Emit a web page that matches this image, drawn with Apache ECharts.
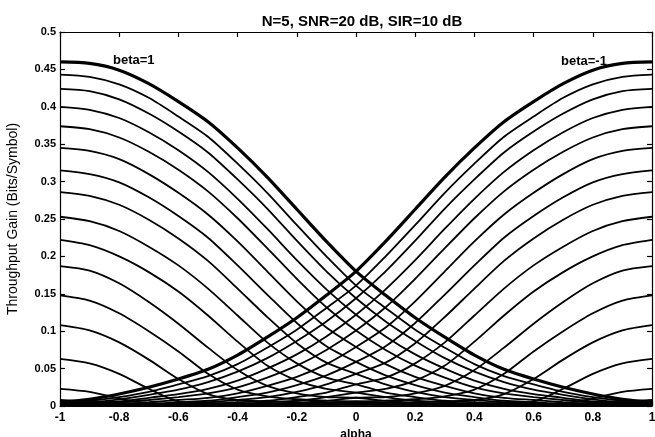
<!DOCTYPE html>
<html><head><meta charset="utf-8">
<script src="https://cdn.jsdelivr.net/npm/echarts@6/dist/echarts.min.js"></script>
<style>html,body{margin:0;padding:0;background:#fff}#c{width:655px;height:437px}</style>
</head><body><div id="c"></div>
<script>
// alpha sample points
const alpha = [-1,-0.9,-0.8,-0.7,-0.6,-0.5,-0.4,-0.3,-0.2,-0.1,0,0.1,0.2,0.3,0.4,0.5,0.6,0.7,0.8,0.9,1];

// descending family (beta = 1 is the thick top-left curve)
const dec1  = [0.460,0.458,0.449,0.431,0.407,0.380,0.345,0.306,0.263,0.220,0.180,0.148,0.118,0.092,0.068,0.049,0.036,0.025,0.016,0.009,0.005];
const dec2  = [0.443,0.440,0.430,0.412,0.387,0.360,0.324,0.285,0.242,0.200,0.161,0.131,0.102,0.078,0.056,0.040,0.029,0.019,0.012,0.007,0.004];
const dec3  = [0.424,0.421,0.410,0.391,0.367,0.339,0.303,0.264,0.221,0.180,0.144,0.113,0.087,0.064,0.046,0.032,0.022,0.015,0.009,0.005,0.003];
const dec4  = [0.400,0.396,0.385,0.366,0.342,0.313,0.277,0.237,0.195,0.156,0.122,0.093,0.069,0.050,0.034,0.023,0.016,0.011,0.006,0.004,0.002];
const dec5  = [0.374,0.370,0.359,0.340,0.316,0.287,0.251,0.211,0.170,0.132,0.101,0.075,0.054,0.038,0.025,0.017,0.012,0.008,0.005,0.003,0.002];
const dec6  = [0.345,0.341,0.330,0.310,0.285,0.256,0.220,0.180,0.140,0.105,0.079,0.056,0.039,0.027,0.017,0.011,0.008,0.005,0.003,0.002,0.002];
const dec7  = [0.315,0.310,0.299,0.279,0.254,0.225,0.188,0.149,0.111,0.080,0.059,0.041,0.028,0.018,0.012,0.007,0.005,0.003,0.002,0.002,0.002];
const dec8  = [0.286,0.281,0.269,0.249,0.224,0.194,0.157,0.119,0.084,0.058,0.043,0.029,0.019,0.012,0.008,0.005,0.003,0.002,0.002,0.002,0.002];
const dec9  = [0.253,0.247,0.234,0.213,0.188,0.157,0.121,0.085,0.057,0.038,0.029,0.018,0.012,0.007,0.005,0.003,0.002,0.002,0.002,0.002,0.002];
const dec10 = [0.222,0.215,0.200,0.179,0.153,0.121,0.086,0.054,0.034,0.023,0.018,0.012,0.007,0.005,0.003,0.002,0.002,0.002,0.002,0.002,0.002];
const dec11 = [0.187,0.181,0.164,0.139,0.110,0.078,0.048,0.027,0.017,0.012,0.011,0.007,0.004,0.003,0.002,0.002,0.002,0.002,0.002,0.002,0.002];
const dec12 = [0.148,0.141,0.124,0.100,0.073,0.043,0.022,0.013,0.009,0.007,0.006,0.004,0.003,0.002,0.002,0.002,0.002,0.002,0.002,0.002,0.002];
const dec13 = [0.108,0.101,0.085,0.062,0.036,0.016,0.008,0.006,0.005,0.004,0.004,0.003,0.002,0.002,0.002,0.002,0.002,0.002,0.002,0.002,0.002];
const dec14 = [0.063,0.057,0.043,0.023,0.006,0.004,0.003,0.003,0.003,0.003,0.003,0.002,0.002,0.002,0.002,0.002,0.002,0.002,0.002,0.002,0.002];
const dec15 = [0.023,0.019,0.010,0.004,0.002,0.002,0.002,0.002,0.002,0.002,0.002,0.002,0.002,0.002,0.002,0.002,0.002,0.002,0.002,0.002,0.002];
const dec16 = [0.008,0.006,0.004,0.003,0.002,0.002,0.002,0.002,0.002,0.002,0.002,0.002,0.002,0.002,0.002,0.002,0.002,0.002,0.002,0.002,0.002];

// ascending family (beta = -1 is the thick top-right curve)
const asc1  = [0.005,0.009,0.016,0.025,0.036,0.049,0.068,0.092,0.118,0.148,0.180,0.220,0.263,0.306,0.345,0.380,0.407,0.431,0.449,0.458,0.460];
const asc2  = [0.004,0.007,0.012,0.019,0.029,0.040,0.056,0.078,0.102,0.131,0.161,0.200,0.242,0.285,0.324,0.360,0.387,0.412,0.430,0.440,0.443];
const asc3  = [0.003,0.005,0.009,0.015,0.022,0.032,0.046,0.064,0.087,0.113,0.144,0.180,0.221,0.264,0.303,0.339,0.367,0.391,0.410,0.421,0.424];
const asc4  = [0.002,0.004,0.006,0.011,0.016,0.023,0.034,0.050,0.069,0.093,0.122,0.156,0.195,0.237,0.277,0.313,0.342,0.366,0.385,0.396,0.400];
const asc5  = [0.002,0.003,0.005,0.008,0.012,0.017,0.025,0.038,0.054,0.075,0.101,0.132,0.170,0.211,0.251,0.287,0.316,0.340,0.359,0.370,0.374];
const asc6  = [0.002,0.002,0.003,0.005,0.008,0.011,0.017,0.027,0.039,0.056,0.079,0.105,0.140,0.180,0.220,0.256,0.285,0.310,0.330,0.341,0.345];
const asc7  = [0.002,0.002,0.002,0.003,0.005,0.007,0.012,0.018,0.028,0.041,0.059,0.080,0.111,0.149,0.188,0.225,0.254,0.279,0.299,0.310,0.315];
const asc8  = [0.002,0.002,0.002,0.002,0.003,0.005,0.008,0.012,0.019,0.029,0.043,0.058,0.084,0.119,0.157,0.194,0.224,0.249,0.269,0.281,0.286];
const asc9  = [0.002,0.002,0.002,0.002,0.002,0.003,0.005,0.007,0.012,0.018,0.029,0.038,0.057,0.085,0.121,0.157,0.188,0.213,0.234,0.247,0.253];
const asc10 = [0.002,0.002,0.002,0.002,0.002,0.002,0.003,0.005,0.007,0.012,0.018,0.023,0.034,0.054,0.086,0.121,0.153,0.179,0.200,0.215,0.222];
const asc11 = [0.002,0.002,0.002,0.002,0.002,0.002,0.002,0.003,0.004,0.007,0.011,0.012,0.017,0.027,0.048,0.078,0.110,0.139,0.164,0.181,0.187];
const asc12 = [0.002,0.002,0.002,0.002,0.002,0.002,0.002,0.002,0.003,0.004,0.006,0.007,0.009,0.013,0.022,0.043,0.073,0.100,0.124,0.141,0.148];
const asc13 = [0.002,0.002,0.002,0.002,0.002,0.002,0.002,0.002,0.002,0.003,0.004,0.004,0.005,0.006,0.008,0.016,0.036,0.062,0.085,0.101,0.108];
const asc14 = [0.002,0.002,0.002,0.002,0.002,0.002,0.002,0.002,0.002,0.002,0.003,0.003,0.003,0.003,0.003,0.004,0.006,0.023,0.043,0.057,0.063];
const asc15 = [0.002,0.002,0.002,0.002,0.002,0.002,0.002,0.002,0.002,0.002,0.002,0.002,0.002,0.002,0.002,0.002,0.002,0.004,0.010,0.019,0.023];
const asc16 = [0.002,0.002,0.002,0.002,0.002,0.002,0.002,0.002,0.002,0.002,0.002,0.002,0.002,0.002,0.002,0.002,0.002,0.003,0.004,0.006,0.008];

const decFamily = [dec1,dec2,dec3,dec4,dec5,dec6,dec7,dec8,dec9,dec10,dec11,dec12,dec13,dec14,dec15,dec16];
const ascFamily = [asc1,asc2,asc3,asc4,asc5,asc6,asc7,asc8,asc9,asc10,asc11,asc12,asc13,asc14,asc15,asc16];

const titleText = 'N=5, SNR=20 dB, SIR=10 dB';
const yName = 'Throughput Gain (Bits/Symbol)';
const xName = 'alpha';
const labelLeft = 'beta=1';
const labelRight = 'beta=-1';

const FONT = 'Arial, "Liberation Sans", Helvetica, sans-serif';
function mk(vals, thick, name) {
  return {
    type: 'line', name: name, showSymbol: false, symbol: 'none',
    smooth: 0.25, silent: true,
    data: alpha.map((a, i) => [a, vals[i]]),
    lineStyle: { color: '#000', width: thick ? 3.2 : 1.8 },
    z: thick ? 3 : 2
  };
}
const series = [];
decFamily.forEach((v, i) => series.push(mk(v, i === 0, 'dec' + (i + 1))));
ascFamily.forEach((v, i) => series.push(mk(v, i === 0, 'asc' + (i + 1))));

const fmt = v => String(+(+v).toFixed(2));
const chart = echarts.init(document.getElementById('c'), null, { renderer: 'canvas' });
function axisCommon() {
  return {
    axisLine: { show: true, onZero: false, lineStyle: { color: '#000', width: 1.2 } },
    axisTick: { show: true, inside: true, length: 5, lineStyle: { color: '#000', width: 1.2 } },
    splitLine: { show: false }
  };
}
chart.setOption({
  animation: false,
  backgroundColor: '#fff',
  title: {
    text: titleText, left: 357, top: 9, textAlign: 'center',
    textStyle: { fontFamily: FONT, fontSize: 15, fontWeight: 'bold', color: '#000' }
  },
  grid: { left: 60, right: 3, top: 32, bottom: 31, outerBoundsMode: 'none', containLabel: false },
  xAxis: [
    Object.assign({
      type: 'value', min: -1, max: 1, interval: 0.2, position: 'bottom',
      name: xName, nameLocation: 'middle', nameGap: 17,
      nameTextStyle: { fontFamily: FONT, fontSize: 12, fontWeight: 'bold', color: '#000' },
      axisLabel: { formatter: fmt, fontFamily: FONT, fontSize: 12, fontWeight: 'bold', color: '#000', margin: 6 }
    }, axisCommon()),
    Object.assign({
      type: 'value', min: -1, max: 1, interval: 0.2, position: 'top',
      axisLabel: { show: false }
    }, axisCommon())
  ],
  yAxis: [
    Object.assign({
      type: 'value', min: 0, max: 0.5, interval: 0.05, position: 'left',
      name: yName, nameLocation: 'middle', nameGap: 40, nameRotate: 90,
      nameTextStyle: { fontFamily: FONT, fontSize: 14, color: '#000' },
      axisLabel: { formatter: fmt, fontFamily: FONT, fontSize: 11, fontWeight: 'bold', color: '#000', margin: 4 }
    }, axisCommon()),
    Object.assign({
      type: 'value', min: 0, max: 0.5, interval: 0.05, position: 'right',
      axisLabel: { show: false }
    }, axisCommon())
  ],
  graphic: [
    { type: 'text', left: 113, top: 54, style: { text: labelLeft, font: 'bold 13px ' + FONT, fill: '#000' } },
    { type: 'text', left: 561, top: 55, style: { text: labelRight, font: 'bold 13px ' + FONT, fill: '#000' } }
  ],
  series: series
});
</script>
</body></html>
